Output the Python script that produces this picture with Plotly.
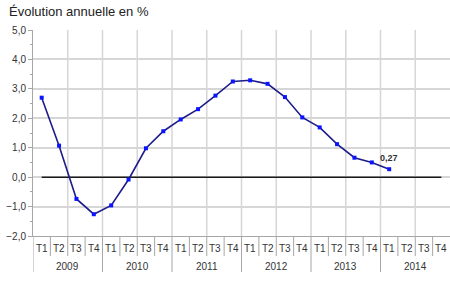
import plotly.graph_objects as go

years = ["2009", "2010", "2011", "2012", "2013", "2014"]
quarters = ["T1", "T2", "T3", "T4"]
values = [2.70, 1.07, -0.74, -1.26, -0.96, -0.08, 0.98, 1.56,
          1.96, 2.31, 2.77, 3.25, 3.29, 3.17, 2.72, 2.03,
          1.69, 1.12, 0.66, 0.50, 0.27]
last_label = "0,27"
title = "Évolution annuelle en %"

n_total = len(years) * len(quarters)
xs = list(range(len(values)))

fig = go.Figure()

# zero line across category centres
fig.add_trace(go.Scatter(x=[0, n_total - 1], y=[0, 0], mode="lines",
                         line=dict(color="#1a1a1a", width=1.5),
                         hoverinfo="skip", showlegend=False))

fig.add_trace(go.Scatter(x=xs, y=values, mode="lines+markers",
                         line=dict(color="#1c1c8a", width=1.6),
                         marker=dict(color="#0a14ff", size=4, symbol="square"),
                         showlegend=False))

annotations = []
shapes = []
font = dict(family="Liberation Sans, Arial, sans-serif", size=10, color="#333333")

for yi, yr in enumerate(years):
    for qi, q in enumerate(quarters):
        k = yi * 4 + qi
        annotations.append(dict(x=k, y=0, xref="x", yref="paper", text=q,
                                showarrow=False, yshift=-12, yanchor="middle",
                                font=font))
        if qi > 0:
            shapes.append(dict(type="line", xref="x", yref="paper",
                               ysizemode="pixel", yanchor=0,
                               x0=k - 0.5, x1=k - 0.5, y0=0, y1=-20,
                               line=dict(color="#a6a6a6", width=1)))
    annotations.append(dict(x=yi * 4 + 1.5, y=0, xref="x", yref="paper", text=yr,
                            showarrow=False, yshift=-30, yanchor="middle",
                            font=font))
    shapes.append(dict(type="line", xref="x", yref="paper",
                       ysizemode="pixel", yanchor=0,
                       x0=yi * 4 - 0.5, x1=yi * 4 - 0.5, y0=0, y1=-36,
                       line=dict(color="#a6a6a6", width=1)))

# data label
annotations.append(dict(x=xs[-1], y=values[-1], xref="x", yref="y", text="<b>" + last_label + "</b>",
                        showarrow=False, yshift=11, yanchor="middle",
                        font=dict(family="Liberation Sans, Arial, sans-serif", size=9, color="#333333")))

# title
annotations.append(dict(x=-26 / 417, y=1, xref="paper", yref="paper", text=title,
                        showarrow=False, xanchor="left", yanchor="top", yshift=28,
                        font=dict(family="Liberation Sans, Arial, sans-serif", size=13, color="#222222")))

# vertical grid lines every 2 quarters
for k in range(2, n_total, 2):
    shapes.append(dict(type="line", xref="x", yref="paper", x0=k - 0.5, x1=k - 0.5,
                       y0=0, y1=1, layer="below",
                       line=dict(color="#d6d6d6", width=1.5)))

fig.update_layout(
    width=450, height=291,
    margin=dict(l=33, r=0, t=30, b=55),
    paper_bgcolor="white", plot_bgcolor="white",
    separators=", ",
    annotations=annotations, shapes=shapes,
    xaxis=dict(range=[-0.5, n_total - 0.5], showticklabels=False, showgrid=False,
               zeroline=False, showline=True, linecolor="#a6a6a6", linewidth=1,
               ticks="", fixedrange=True),
    yaxis=dict(range=[-2, 5], dtick=1, tickformat=".1f", showgrid=True,
               gridcolor="#d6d6d6", gridwidth=1.5, zeroline=False,
               showline=True, linecolor="#a6a6a6", linewidth=1,
               ticks="outside", ticklen=4, tickcolor="#a6a6a6",
               minor=dict(dtick=0.5, ticks="outside", ticklen=2, tickcolor="#a6a6a6", showgrid=False),
               tickfont=font),
)

fig.write_html("out.html")
